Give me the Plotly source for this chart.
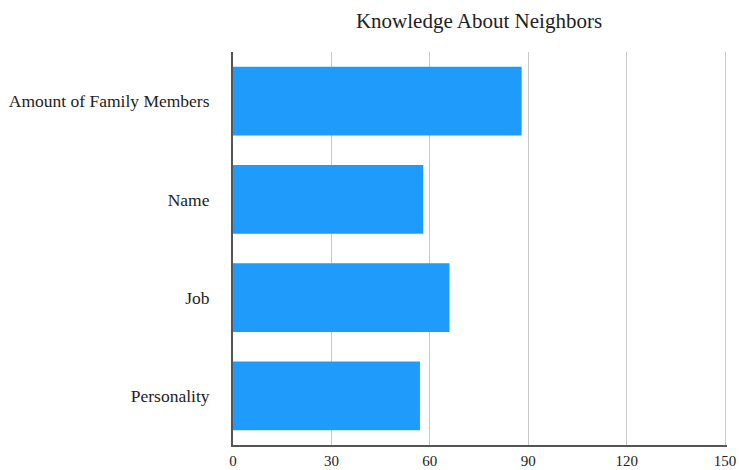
import plotly.graph_objects as go

categories = ["Amount of Family Members", "Name", "Job", "Personality"]
values = [88, 58, 66, 57]
x_ticks = [0, 30, 60, 90, 120, 150]

fig = go.Figure(
    go.Bar(
        y=categories,
        x=values,
        orientation="h",
        marker=dict(color="#1e9bfb", line=dict(width=0)),
        width=0.7,
    )
)

fig.update_layout(
    width=739,
    height=470,
    margin=dict(l=233, r=12, t=52, b=25),
    paper_bgcolor="white",
    plot_bgcolor="white",
    font=dict(family="Liberation Serif", size=17, color="#222"),
    title=dict(
        text="Knowledge About Neighbors",
        x=(233 + 725) / 2 / 739,
        xanchor="center",
        y=1 - 21 / 470,
        yanchor="middle",
        font=dict(family="Liberation Serif", size=21, color="#222"),
    ),
    showlegend=False,
)

# small headroom past 150 so its gridline is drawn at the right edge
fig.update_xaxes(
    range=[0, 150.6],
    tickvals=x_ticks,
    showgrid=True,
    gridcolor="#c8c8c8",
    gridwidth=1,
    zeroline=False,
    showline=True,
    linecolor="#555",
    linewidth=2,
    ticks="",
    ticklabelstandoff=1,
    tickfont=dict(size=15),
    automargin=False,
)

fig.update_yaxes(
    categoryorder="array",
    categoryarray=categories[::-1],
    range=[-0.5, 3.5],
    showgrid=False,
    zeroline=False,
    showline=True,
    linecolor="#555",
    linewidth=2,
    ticks="",
    ticklabelstandoff=18,
    tickfont=dict(size=17.5),
    automargin=False,
)

fig.write_html("out.html")
